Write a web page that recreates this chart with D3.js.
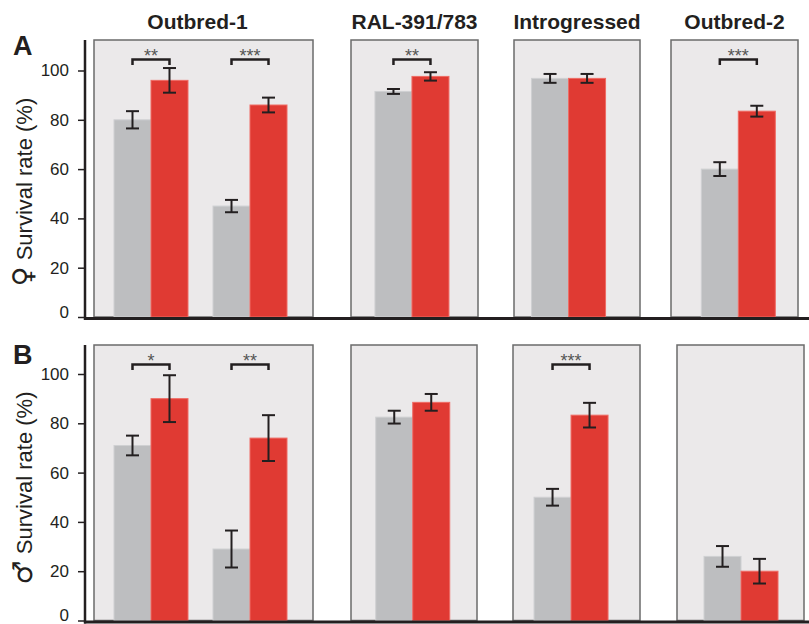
<!DOCTYPE html>
<html lang="en">
<head>
<meta charset="UTF-8">
<title>Survival rate</title>
<script src="https://d3js.org/d3.v7.min.js"></script>
<style>
    body { margin: 0; background: #fff; }
    svg text { font-family: "Liberation Sans", Arial, "DejaVu Sans", sans-serif; fill: #231f20; }
    .title { font-size: 21px; font-weight: bold; }
    .letter { font-size: 27px; font-weight: bold; }
    .ylab { font-size: 22px; }
    .sym { font-family: "DejaVu Sans", sans-serif; font-size: 27px; }
    .tick text { font-size: 17px; }
    .sig { font-size: 18px; fill: #555; }
</style>
</head>
<body>
<svg width="809" height="624"></svg>
<script>
    // panels and which panel each comparison sits in
    const panelNames = ["Outbred-1", "RAL-391/783", "Introgressed", "Outbred-2"];
    const groupPanel = [0, 0, 1, 2, 3];
    const conditions = ["control", "treated"];
    const yTicks = [0, 20, 40, 60, 80, 100];

    // A: females
    const femaleControl = [80, 45, 91.5, 96.8, 60];
    const femaleControlErr = [3.5, 2.5, 1.0, 1.8, 2.8];
    const femaleTreated = [96, 86, 97.6, 96.8, 83.5];
    const femaleTreatedErr = [5, 3, 1.7, 1.8, 2.2];
    const femaleSig = ["**", "***", "**", "", "***"];

    // B: males
    const maleControl = [71, 29, 82.5, 50, 26];
    const maleControlErr = [4, 7.5, 2.6, 3.4, 4.2];
    const maleTreated = [90, 74, 88.5, 83.3, 20];
    const maleTreatedErr = [9.5, 9.3, 3.4, 5, 5];
    const maleSig = ["*", "**", "", "***", ""];

    const color = d3.scaleOrdinal().domain(conditions).range(["#bdbec0", "#e03a33"]);
    const edge = d3.scaleOrdinal().domain(conditions).range(["#cfd0d2", "#ef6b64"]);
    const barW = 37;
    const axisX = 85;

    const rows = [
        {letter: "A", letterY: 55, sym: "\u2640", label: "Survival rate (%)", labelY: 192,
         top: 40, base: 317, y100: 70.5,
         boxes: [[94, 313, 0.475], [351, 478, 0.48], [514, 640, 0.433], [671, 798, 0.53]],
         ctrl: femaleControl, ctrlErr: femaleControlErr, trt: femaleTreated, trtErr: femaleTreatedErr, sig: femaleSig},
        {letter: "B", letterY: 364, sym: "\u2642", label: "Survival rate (%)", labelY: 488,
         top: 345, base: 620.5, y100: 374,
         boxes: [[94, 313, 0.475], [351, 477, 0.49], [513, 640, 0.457], [677, 804, 0.504]],
         ctrl: maleControl, ctrlErr: maleControlErr, trt: maleTreated, trtErr: maleTreatedErr, sig: maleSig}
    ];

    const svg = d3.select("svg");
    const inner = d3.scaleBand().domain(conditions).range([-barW, barW]);

    // panel titles
    svg.selectAll(".title")
        .data(panelNames)
        .enter().append("text")
        .attr("class", "title")
        .attr("x", (d, i) => (rows[0].boxes[i][0] + rows[0].boxes[i][1]) / 2 - (i === 0 ? 6 : 0))
        .attr("y", 29)
        .attr("text-anchor", "middle")
        .text(d => d);

    rows.forEach(function (row) {
        const y = d3.scaleLinear().domain([0, 100]).range([row.base, row.y100]);
        const g = svg.append("g");

        // grey panel boxes
        g.selectAll("rect.box")
            .data(row.boxes)
            .enter().append("rect")
            .attr("class", "box")
            .attr("x", d => d[0])
            .attr("y", row.top)
            .attr("width", d => d[1] - d[0])
            .attr("height", row.base - row.top)
            .attr("fill", "#ebe9ea")
            .attr("stroke", "#6b6b6b")
            .attr("stroke-width", 1.5);

        // centre of each comparison inside its panel
        const centers = [];
        panelNames.forEach(function (name, p) {
            const ids = groupPanel.map((q, i) => q === p ? i : -1).filter(i => i >= 0);
            const sc = d3.scalePoint().domain(ids)
                .range([row.boxes[p][0], row.boxes[p][1]])
                .padding(0.606).align(row.boxes[p][2]);
            ids.forEach(i => centers[i] = sc(i));
        });

        const bars = [];
        groupPanel.forEach(function (p, i) {
            bars.push({c: "control", i: i, v: row.ctrl[i], e: row.ctrlErr[i]});
            bars.push({c: "treated", i: i, v: row.trt[i], e: row.trtErr[i]});
        });

        g.selectAll("rect.bar")
            .data(bars)
            .enter().append("rect")
            .attr("class", "bar")
            .attr("x", d => centers[d.i] + inner(d.c))
            .attr("y", d => y(d.v))
            .attr("width", inner.bandwidth())
            .attr("height", d => y(0) - y(d.v))
            .attr("fill", d => color(d.c))
            .attr("stroke", d => edge(d.c))
            .attr("stroke-width", 1);

        // error bars
        const eb = g.selectAll("g.err")
            .data(bars)
            .enter().append("g")
            .attr("class", "err")
            .attr("transform", d => `translate(${centers[d.i] + inner(d.c) + inner.bandwidth() / 2},0)`)
            .attr("stroke", "#231f20")
            .attr("stroke-width", 2);
        eb.append("line").attr("y1", d => y(d.v + d.e)).attr("y2", d => y(d.v - d.e));
        eb.append("line").attr("x1", -6.5).attr("x2", 6.5).attr("y1", d => y(d.v + d.e)).attr("y2", d => y(d.v + d.e));
        eb.append("line").attr("x1", -6.5).attr("x2", 6.5).attr("y1", d => y(d.v - d.e)).attr("y2", d => y(d.v - d.e));

        // significance brackets
        const sigData = row.sig.map((s, i) => ({s: s, i: i})).filter(d => d.s);
        const by = row.top + 19.5;
        const sg = g.selectAll("g.sig")
            .data(sigData)
            .enter().append("g");
        sg.append("path")
            .attr("d", function (d) {
                const x0 = centers[d.i] + inner("control") + inner.bandwidth() / 2;
                const x1 = centers[d.i] + inner("treated") + inner.bandwidth() / 2;
                return `M${x0},${by + 5.5}V${by}H${x1}V${by + 5.5}`;
            })
            .attr("fill", "none")
            .attr("stroke", "#231f20")
            .attr("stroke-width", 2.5);
        sg.append("text")
            .attr("class", "sig")
            .attr("x", d => centers[d.i])
            .attr("y", by + 2)
            .attr("text-anchor", "middle")
            .text(d => d.s);

        // y axis
        g.append("g")
            .attr("transform", `translate(${axisX},0)`)
            .call(d3.axisLeft(y).tickValues(yTicks).tickSize(7).tickPadding(9))
            .call(a => a.select(".domain").remove())
            .call(a => a.selectAll(".tick line").attr("stroke", "#231f20").attr("stroke-width", 1.5))
            .call(a => a.selectAll(".tick text").filter(d => d === 0).attr("dy", "0"));

        g.append("line")
            .attr("x1", axisX).attr("x2", axisX)
            .attr("y1", row.top).attr("y2", row.base + 3)
            .attr("stroke", "#231f20").attr("stroke-width", 2.5);

        g.append("line")
            .attr("x1", axisX - 1).attr("x2", 809)
            .attr("y1", row.base + 1.5).attr("y2", row.base + 1.5)
            .attr("stroke", "#231f20").attr("stroke-width", 3);

        const lab = g.append("text")
            .attr("class", "ylab")
            .attr("transform", `translate(32,${row.labelY}) rotate(-90)`)
            .attr("text-anchor", "middle");
        lab.append("tspan").attr("class", "sym").text(row.sym);
        lab.append("tspan").text(" " + row.label);

        g.append("text")
            .attr("class", "letter")
            .attr("x", 13)
            .attr("y", row.letterY)
            .text(row.letter);
    });
</script>
</body>
</html>
